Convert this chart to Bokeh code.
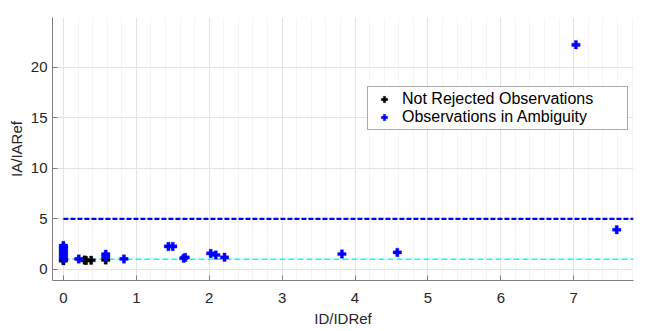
from bokeh.plotting import figure
from bokeh.models import Range1d, FixedTicker, Legend, LegendItem
from bokeh.embed import file_html
from bokeh.resources import INLINE

# Data
not_rej_x = [0.0, 0.0, 0.29, 0.31, 0.38, 0.58]
not_rej_y = [0.85, 0.95, 0.92, 0.88, 0.90, 0.93]

amb_x = [0.0, 0.0, 0.0, 0.0, 0.0, 0.0, 0.0, 0.0, 0.21, 0.58, 0.58, 0.83,
         1.44, 1.50, 1.65, 1.67, 2.02, 2.09, 2.21, 3.82, 4.58, 7.03, 7.59]
amb_y = [1.05, 1.25, 1.45, 1.65, 1.85, 2.05, 2.2, 2.35, 1.03, 1.25, 1.5, 1.03,
         2.27, 2.27, 1.1, 1.18, 1.58, 1.42, 1.19, 1.52, 1.68, 22.2, 3.92]

thr_x = [0.0, 7.82]
upper_thr = [5.0, 5.0]
lower_thr = [1.0, 1.0]

x_ticks = [0, 1, 2, 3, 4, 5, 6, 7]
y_ticks = [0, 5, 10, 15, 20]

FONT = "Liberation Sans"
TXT = "#262626"

p = figure(width=640, height=330, output_backend="svg", toolbar_location=None,
           x_range=Range1d(-0.15, 7.82), y_range=Range1d(-1.1, 24.9),
           min_border_left=52, min_border_top=17, min_border_right=7, min_border_bottom=50)
p.outline_line_color = None
p.background_fill_color = "white"
p.border_fill_color = "white"

for ax in (p.xaxis[0], p.yaxis[0]):
    ax.axis_line_color = "#7f7f7f"
    ax.major_tick_line_color = "#7f7f7f"
    ax.major_tick_in = 5
    ax.major_tick_out = 0
    ax.minor_tick_line_color = None
    ax.major_label_text_font = FONT
    ax.major_label_text_font_size = "15px"
    ax.major_label_text_color = TXT
    ax.axis_label_text_font = FONT
    ax.axis_label_text_font_size = "15px"
    ax.axis_label_text_font_style = "normal"
    ax.axis_label_text_color = TXT

p.xaxis.ticker = FixedTicker(ticks=x_ticks, minor_ticks=[i / 5 for i in range(0, 40)])
p.yaxis.ticker = FixedTicker(ticks=y_ticks)
p.xaxis.axis_label = "ID/IDRef"
p.yaxis.axis_label = "IA/IARef"
p.xaxis.major_label_standoff = 8
p.xaxis.axis_label_standoff = 4
p.yaxis.major_label_standoff = 5
p.yaxis.axis_label_standoff = 3

p.xgrid.grid_line_color = "#e3e3e3"
p.ygrid.grid_line_color = "#e3e3e3"
p.xgrid.minor_grid_line_color = "#f5f5f5"

# threshold lines
p.line(thr_x, upper_thr, line_color="#0000ff", line_width=2.2, line_dash="5 2")
p.line(thr_x, lower_thr, line_color="#00ffff", line_width=1.6, line_dash="6 3")

r1 = p.scatter(not_rej_x, not_rej_y, marker="plus", size=8.5, fill_color="black",
               line_color="black", line_width=0.3)
r2 = p.scatter(amb_x, amb_y, marker="plus", size=8.5, fill_color="#0000ff",
               line_color="#0000ff", line_width=0.3)

legend = Legend(items=[LegendItem(label="Not Rejected Observations", renderers=[r1]),
                       LegendItem(label="Observations in Ambiguity", renderers=[r2])],
                location=(315, 150))
legend.label_text_font = FONT
legend.label_text_font_size = "16px"
legend.label_text_color = "black"
legend.border_line_color = "#555555"
legend.border_line_width = 1
legend.glyph_width = 26
legend.glyph_height = 16
legend.label_height = 16
legend.label_width = 222
legend.spacing = 0
legend.padding = 3
legend.margin = 0
legend.label_standoff = 5
p.add_layout(legend, "center")

open("out.html", "w").write(file_html(p, INLINE))
